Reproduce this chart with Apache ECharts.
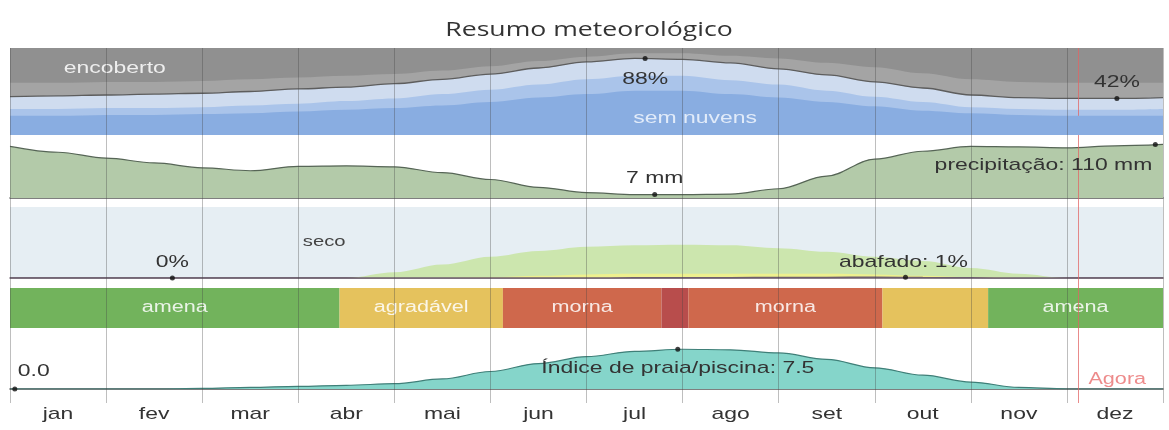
<!DOCTYPE html>
<html>
<head>
<meta charset="utf-8">
<script src="https://cdn.jsdelivr.net/npm/echarts@6/dist/echarts.min.js"></script>
<style>
  html, body { margin: 0; padding: 0; background: #fff; }
  #chart { width: 1169px; height: 430px; }
</style>
</head>
<body>
<div id="chart"></div>
<script>
// Month names along the bottom axis
const months = ['jan', 'fev', 'mar', 'abr', 'mai', 'jun', 'jul', 'ago', 'set', 'out', 'nov', 'dez'];
const monthCenters = [0.5, 1.5, 2.5, 3.5, 4.5, 5.5, 6.5, 7.5, 8.5, 9.5, 10.5, 11.5];

// Sample positions, in months since 1 January (half-month steps)
const samplePos = [0, 0.5, 1, 1.5, 2, 2.5, 3, 3.5, 4, 4.5, 5, 5.5, 6, 6.5, 7, 7.5, 8, 8.5, 9, 9.5, 10, 10.5, 11, 11.5, 12];

// Cloud cover, cumulative % from the bottom (clear, mostly clear, partly cloudy, mostly cloudy)
const cloudClearTop       = [22, 22, 23, 23, 24, 25, 27, 29, 31, 34, 38, 43, 47, 51, 51, 47, 43, 38, 33, 28, 25, 23, 22, 22, 22];
const cloudMostlyClearTop = [30, 30, 31, 31, 32, 34, 36, 39, 42, 47, 52, 58, 64, 68, 68, 63, 58, 51, 44, 38, 32, 30, 29, 29, 30];
const cloudPartlyTop      = [44, 45, 46, 47, 48, 50, 53, 55, 59, 64, 70, 77, 84, 88, 87, 83, 76, 69, 61, 54, 46, 43, 42, 42, 43];
const cloudMostlyTop      = [60, 60, 61, 61, 62, 64, 66, 68, 70, 74, 79, 85, 90, 94, 94, 91, 88, 83, 78, 71, 64, 61, 60, 60, 60];

// Monthly rainfall (mm, 31-day sliding total)
const precipMm = [106, 94, 82, 72, 62, 56, 65, 66, 64, 52, 38, 22, 11, 7, 7, 8, 19, 45, 80, 96, 106, 105, 103, 107, 110];

// Humidity comfort levels (% of time)
const comfortPct = [0, 0, 0, 0, 0, 0, 0, 0, 8, 19, 30, 38, 44, 46, 47, 46, 42, 37, 30, 24, 14, 6, 0, 0, 0];
const humidPct   = [0, 0, 0, 0, 0, 0, 0, 0, 0, 0, 1, 3, 5, 6, 6, 6, 6, 6, 5, 3, 1, 0, 0, 0, 0];
const muggyPct   = [0, 0, 0, 0, 0, 0, 0, 0, 0, 0, 0, 0, 0, 0.2, 0.4, 0.5, 0.6, 0.8, 1, 0.6, 0.2, 0, 0, 0, 0];

// Beach / pool score (0 - 10)
const beachScore = [0, 0, 0, 0, 0.1, 0.3, 0.5, 0.7, 1.0, 1.9, 3.3, 4.8, 6.1, 7.1, 7.5, 7.4, 6.8, 5.6, 4.0, 2.6, 1.3, 0.3, 0, 0, 0];

// Perceived temperature bands
const tempStart = [0, 3.43, 5.13, 6.78, 7.06, 9.08, 10.18];
const tempEnd   = [3.43, 5.13, 6.78, 7.06, 9.08, 10.18, 12];
const tempKind  = ['amena', 'agradável', 'morna', 'quente', 'morna', 'agradável', 'amena'];
const tempLabel = ['amena', 'agradável', 'morna', '', 'morna', '', 'amena'];

// Highlighted extremes
const cloudMax = [6.61, 88], cloudMin = [11.52, 42];
const precipMin = [6.71, 7], precipMax = [11.92, 110];
const muggyMin = [1.69, 0], muggyMax = [9.32, 1];
const beachMin = [0.05, 0], beachMax = [6.95, 7.5];
const nowMonth = 11.12;

const tempColors = { 'amena': '#72b35c', 'agradável': '#e5c25d', 'morna': '#cf684c', 'quente': '#b84d4c' };

const FONT = '"Liberation Sans", Arial, sans-serif';
const WIDE = 1.35;   // horizontal stretch of the label lettering
const pts = (vals) => samplePos.map((x, i) => [x, vals[i]]);

const L = 10, R = 6;
const grids = [
  { left: L, right: R, top: 48, height: 87, show: true, backgroundColor: '#909090', borderWidth: 0 },   // clouds
  { left: L, right: R, top: 142, height: 56 },                                                          // precipitation
  { left: L, right: R, top: 207, height: 71, show: true, backgroundColor: '#e6eef3', borderWidth: 0 },  // humidity
  { left: L, right: R, top: 288, height: 40 },                                                          // temperature bands
  { left: L, right: R, top: 336, height: 53 },                                                          // beach score
  { left: L, right: R, top: 48, bottom: 27 }                                                            // month grid overlay
];

const hiddenX = (gi, baseline, color) => ({
  type: 'value', gridIndex: gi, min: 0, max: 12, show: true,
  axisLine: { show: !!baseline, onZero: false, lineStyle: { color: color || '#555', width: 1.5 } },
  axisTick: { show: false }, axisLabel: { show: false }, splitLine: { show: false }
});
const hiddenY = (gi, max) => ({ type: 'value', gridIndex: gi, min: 0, max: max, show: false });

const area = (gi, vals, fill, lineColor, lineWidth, z) => ({
  type: 'line', xAxisIndex: gi, yAxisIndex: gi, data: pts(vals),
  smooth: 0.35, smoothMonotone: 'x', symbol: 'none', silent: true, z: z || 2,
  lineStyle: { color: lineColor || fill, width: lineWidth || 0 },
  areaStyle: { color: fill, opacity: 1 }
});

const dot = (gi, pos) => ({
  type: 'scatter', xAxisIndex: gi, yAxisIndex: gi, data: [pos], symbolSize: 5, silent: true, z: 7,
  itemStyle: { color: '#111' }
});

// Text anchored at a data point, shifted by (dx, dy) pixels
const textMark = (gi, anchors, texts, opt) => ({
  type: 'custom', xAxisIndex: gi, yAxisIndex: gi, data: anchors, silent: true, z: 8, clip: false,
  renderItem: (params, api) => {
    const p = api.coord([api.value(0), api.value(1)]);
    return {
      type: 'text', x: p[0] + (opt.dx || 0), y: p[1] + (opt.dy || 0), scaleX: WIDE,
      style: {
        text: texts[params.dataIndex], x: 0, y: 0,
        align: opt.align || 'center', verticalAlign: 'middle',
        fill: opt.color || '#333', font: (opt.size || 17) + 'px ' + FONT
      }
    };
  }
});

const bandData = tempStart.map((s, i) => [s, tempEnd[i]]);

const option = {
  animation: false,
  graphic: [{
    type: 'text', x: 589, y: 30, scaleX: 1.33,
    style: { text: 'Resumo meteorológico', x: 0, y: 0, align: 'center', verticalAlign: 'middle',
      fill: '#333', font: '20px "Open Sans", "Noto Sans", sans-serif' }
  }],
  grid: grids,
  xAxis: [
    hiddenX(0, false), hiddenX(1, true, '#555'), hiddenX(2, true, '#6e5f6e'), hiddenX(3, false), hiddenX(4, true, '#555'),
    {
      type: 'value', gridIndex: 5, min: 0, max: 12, interval: 1, z: 10,
      axisLine: { show: false }, axisTick: { show: false }, axisLabel: { show: false },
      splitLine: { show: true, lineStyle: { color: 'rgba(70,70,70,0.35)', width: 1 } }
    }
  ],
  yAxis: [hiddenY(0, 100), hiddenY(1, 115), hiddenY(2, 100), hiddenY(3, 1), hiddenY(4, 10), hiddenY(5, 1)],
  series: [
    // clouds
    area(0, cloudMostlyTop, '#a4a4a4'),
    area(0, cloudPartlyTop, '#cfdcef', '#5d5d5d', 1.3, 3),
    area(0, cloudMostlyClearTop, '#aac4ea', null, 0, 4),
    area(0, cloudClearTop, '#89ade1', null, 0, 5),
    textMark(0, [[1.09, 77]], ['encoberto'], { color: 'rgba(255,255,255,0.85)' }),
    textMark(0, [[7.13, 19.5]], ['sem nuvens'], { color: 'rgba(235,242,252,0.9)' }),
    dot(0, cloudMax), textMark(0, [cloudMax], ['88%'], { dy: 21 }),
    dot(0, cloudMin), textMark(0, [cloudMin], ['42%'], { dy: -16 }),

    // precipitation
    area(1, precipMm, '#b3caa9', '#566556', 1.2),
    dot(1, precipMin), textMark(1, [precipMin], ['7 mm'], { dy: -16 }),
    dot(1, precipMax), textMark(1, [precipMax], ['precipitação: 110 mm'], { align: 'right', dx: -3, dy: 21 }),

    // humidity comfort
    area(2, comfortPct, '#cce6ae'),
    area(2, humidPct, '#eef08e', null, 0, 3),
    {
      type: 'line', xAxisIndex: 2, yAxisIndex: 2, data: pts(muggyPct), smooth: 0.35, symbol: 'none', silent: true, z: 4,
      lineStyle: { color: '#6e5f6e', width: 1.5 }
    },
    textMark(2, [[3.27, 50.7]], ['seco'], { color: '#444', size: 15 }),
    dot(2, muggyMin), textMark(2, [muggyMin], ['0%'], { dy: -16 }),
    dot(2, muggyMax), textMark(2, [muggyMax], ['abafado: 1%'], { dx: -2, dy: -15 }),

    // perceived temperature
    {
      type: 'custom', xAxisIndex: 3, yAxisIndex: 3, data: bandData, silent: true, z: 3,
      renderItem: (params, api) => {
        const a = api.coord([api.value(0), 1]);
        const b = api.coord([api.value(1), 0]);
        const i = params.dataIndex;
        return {
          type: 'group',
          children: [
            { type: 'rect', shape: { x: a[0], y: a[1], width: b[0] - a[0], height: b[1] - a[1] }, style: { fill: tempColors[tempKind[i]] } },
            { type: 'text', x: (a[0] + b[0]) / 2, y: (a[1] + b[1]) / 2, scaleX: WIDE,
              style: { text: tempLabel[i], x: 0, y: 0, align: 'center', verticalAlign: 'middle',
                fill: 'rgba(255,255,255,0.85)', font: '16px ' + FONT } }
          ]
        };
      }
    },

    // beach / pool score
    area(4, beachScore, '#85d5ca', '#3f7f78', 1.2),
    dot(4, beachMin), textMark(4, [beachMin], ['0.0'], { dx: 19, dy: -18 }),
    dot(4, beachMax), textMark(4, [beachMax], ['Índice de praia/piscina: 7.5'], { dy: 19 }),
    textMark(4, [[nowMonth, 0]], ['Agora'], { align: 'left', dx: 10, dy: -9, color: 'rgba(232,110,110,0.8)', size: 16 }),

    // month names under the panels
    textMark(5, monthCenters.map((m) => [m, 0]), months, { dy: 11 }),

    // current date marker across all panels
    {
      type: 'line', xAxisIndex: 5, yAxisIndex: 5, data: [], symbol: 'none', silent: true, z: 11,
      markLine: {
        silent: true, symbol: ['none', 'none'], animation: false,
        label: { show: false },
        lineStyle: { color: 'rgba(225,100,100,0.75)', width: 1, type: 'solid' },
        data: [{ xAxis: nowMonth }]
      }
    }
  ]
};

const chart = echarts.init(document.getElementById('chart'), null, { renderer: 'canvas' });
chart.setOption(option);
</script>
</body>
</html>
